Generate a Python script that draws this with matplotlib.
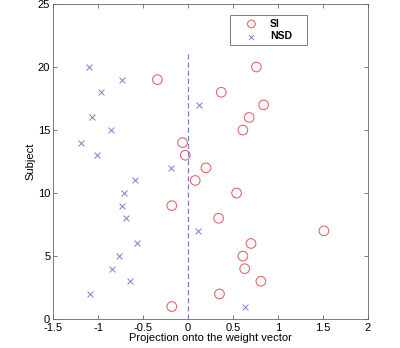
import matplotlib
matplotlib.use('Agg')
import matplotlib.pyplot as plt

plt.rcParams['font.family'] = ['Liberation Sans', 'DejaVu Sans']

# projections for each subject (1..20)
subjects = list(range(1, 21))
si_proj = [-0.18, 0.35, 0.81, 0.63, 0.61, 0.70, 1.51, 0.34, -0.18, 0.54,
           0.08, 0.20, -0.03, -0.06, 0.61, 0.68, 0.84, 0.37, -0.34, 0.76]
nsd_proj = [0.63, -1.09, -0.64, -0.84, -0.77, -0.57, 0.11, -0.69, -0.73, -0.71,
            -0.59, -0.19, -1.01, -1.19, -0.86, -1.07, 0.12, -0.97, -0.73, -1.10]

red = '#e06a6a'
blue = '#7b7bcf'

fig = plt.figure(figsize=(4.0, 3.48), dpi=100)
ax = fig.add_axes([0.1325, 0.083, 0.7875, 0.9055])

ax.scatter(si_proj, subjects, s=48, facecolors='none', edgecolors=red,
           linewidths=0.8, label='SI')
ax.scatter(nsd_proj, subjects, s=18, marker='x', c=blue, linewidths=0.7,
           label='NSD')
ax.plot([0, 0], [0, 21], '--', color=blue, lw=0.9, dashes=(4, 2.5))

ax.set_xlim(-1.5, 2)
ax.set_ylim(0, 25)
ax.set_xticks([-1.5, -1, -0.5, 0, 0.5, 1, 1.5, 2])
ax.set_xticklabels(['-1.5', '-1', '-0.5', '0', '0.5', '1', '1.5', '2'])
ax.set_yticks([0, 5, 10, 15, 20, 25])
ax.tick_params(direction='in', top=True, right=True, labelsize=8,
               length=3, width=0.6, color='#666666', pad=2)
ax.tick_params(axis='x', pad=3)
for sp in ax.spines.values():
    sp.set_color('#666666')
    sp.set_linewidth(0.6)

ax.set_xlabel('Projection onto the weight vector', fontsize=8, labelpad=0)
ax.set_ylabel('Subject', fontsize=8, labelpad=2)

leg = ax.legend(loc='upper left', bbox_to_anchor=(0.562, 0.873, 0.244, 0.092),
                mode='expand', prop={'weight': 'bold', 'size': 7.5},
                fancybox=False, edgecolor='#666666', framealpha=1,
                borderpad=0.35, borderaxespad=0, handletextpad=0.1,
                labelspacing=0.25, handlelength=3.4, markerscale=0.8)
leg.get_frame().set_linewidth(0.6)

fig.savefig('out.png', dpi=100)
